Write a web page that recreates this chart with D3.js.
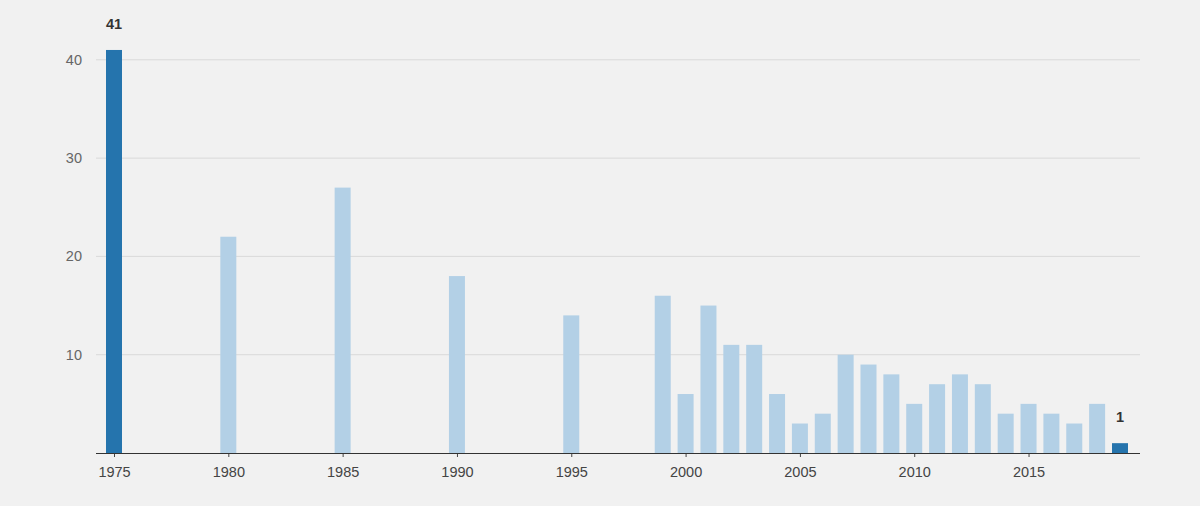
<!DOCTYPE html>
<html>
<head>
<meta charset="utf-8">
<script src="https://cdn.jsdelivr.net/npm/d3@7"></script>
<style>
  body { margin: 0; background: #f1f1f1; }
  text { font-family: "Liberation Sans", Arial, sans-serif; }
</style>
</head>
<body>
<svg id="chart" width="1200" height="506"></svg>
<script>
// Data
var years = [1975, 1980, 1985, 1990, 1995, 1999, 2000, 2001, 2002, 2003, 2004, 2005, 2006,
             2007, 2008, 2009, 2010, 2011, 2012, 2013, 2014, 2015, 2016, 2017, 2018, 2019];
var counts = [41, 22, 27, 18, 14, 16, 6, 15, 11, 11, 6, 3, 4,
              10, 9, 8, 5, 7, 8, 7, 4, 5, 4, 3, 5, 1];
var yTicks = [10, 20, 30, 40];
var xTicks = [1975, 1980, 1985, 1990, 1995, 2000, 2005, 2010, 2015];
var highlight = [1975, 2019];

var svg = d3.select("#chart");
var left = 96, right = 1140, top = 20, bottom = 453;

var x = d3.scaleLinear().domain([1975, 2019]).range([114, 1120]);
var y = d3.scaleLinear().domain([0, 44]).range([bottom, bottom - 44 * 9.83]);
var barW = 16;

// gridlines
svg.append("g").selectAll("line").data(yTicks).enter().append("line")
    .attr("x1", left).attr("x2", right)
    .attr("y1", d => y(d)).attr("y2", d => y(d))
    .attr("stroke", "#d9d9d9").attr("stroke-width", 1);

// y labels
svg.append("g").selectAll("text").data(yTicks).enter().append("text")
    .attr("x", 82).attr("y", d => y(d) + 5)
    .attr("text-anchor", "end").attr("font-size", 14.5).attr("fill", "#666")
    .text(d => d);

// bars
var data = years.map((yr, i) => ({ year: yr, value: counts[i] }));
svg.append("g").selectAll("rect").data(data).enter().append("rect")
    .attr("x", d => x(d.year) - barW / 2)
    .attr("width", barW)
    .attr("y", d => y(d.value))
    .attr("height", d => bottom - y(d.value))
    .attr("fill", d => highlight.includes(d.year) ? "#2574ad" : "#b3d0e6");

// value labels on highlighted bars
svg.append("g").selectAll("text").data(data.filter(d => highlight.includes(d.year))).enter().append("text")
    .attr("x", d => x(d.year)).attr("y", d => y(d.value) - 21)
    .attr("text-anchor", "middle").attr("font-size", 14.5).attr("font-weight", "bold")
    .attr("fill", "#333").text(d => d.value);

// x axis
var xAxis = d3.axisBottom(x).tickValues(xTicks).tickFormat(d3.format("d")).tickSize(4);
var gx = svg.append("g").attr("transform", "translate(0," + bottom + ")").call(xAxis);
gx.select(".domain").remove();
gx.selectAll("line").attr("stroke", "#444");
gx.selectAll("text").attr("font-size", 14.5).attr("fill", "#444").attr("dy", "1.15em")
    .style("font-family", "Liberation Sans, Arial, sans-serif");
svg.append("line").attr("x1", left).attr("x2", right)
    .attr("y1", bottom + 0.5).attr("y2", bottom + 0.5)
    .attr("stroke", "#333").attr("stroke-width", 1.2);
</script>
</body>
</html>
